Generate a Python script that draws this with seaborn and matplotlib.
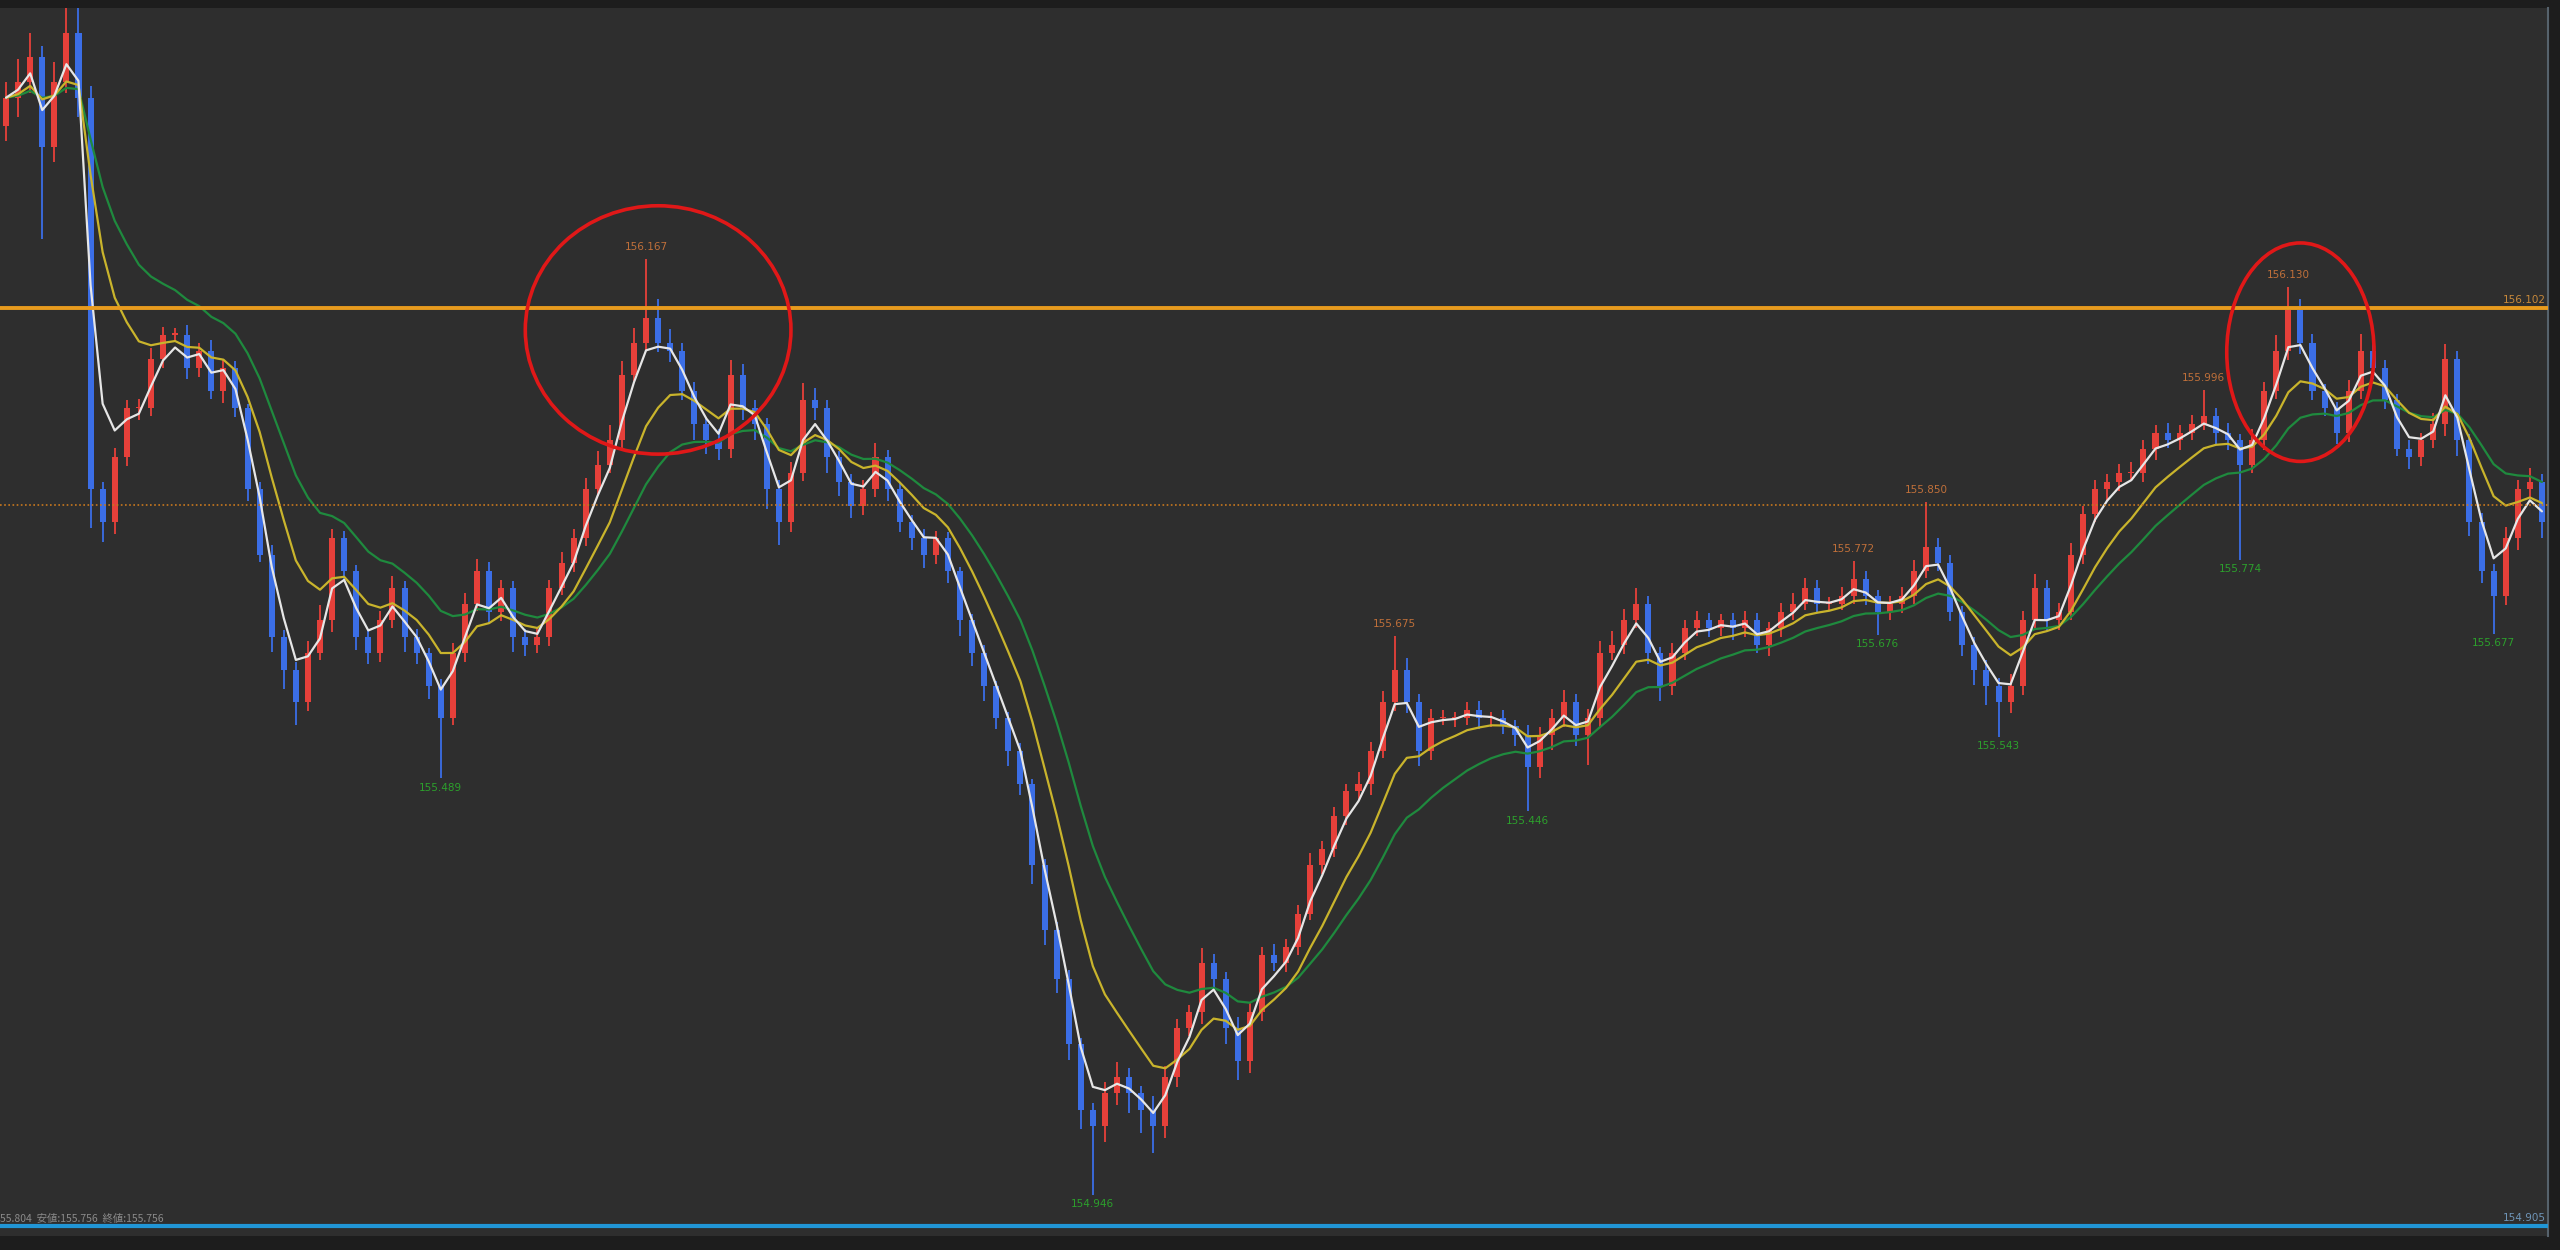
import pandas as pd
import numpy as np
import matplotlib.pyplot as plt
import seaborn as sns
from matplotlib.patches import Ellipse


# Close prices (one per candle, left to right)
close = [
    156.377, 156.398, 156.430, 156.313, 156.398, 156.462, 156.377, 155.866, 155.823, 155.908,
    155.972, 155.972, 156.036, 156.068, 156.068, 156.025, 156.047, 155.994, 156.025, 155.972,
    155.866, 155.781, 155.674, 155.631, 155.589, 155.653, 155.695, 155.802, 155.759, 155.674,
    155.653, 155.695, 155.738, 155.674, 155.653, 155.610, 155.568, 155.653, 155.717, 155.759,
    155.706, 155.738, 155.674, 155.663, 155.674, 155.738, 155.770, 155.802, 155.866, 155.898,
    155.930, 156.015, 156.057, 156.089, 156.057, 156.047, 155.994, 155.951, 155.930, 155.919,
    156.015, 155.972, 155.951, 155.866, 155.823, 155.887, 155.983, 155.972, 155.908, 155.876,
    155.844, 155.866, 155.908, 155.866, 155.823, 155.802, 155.781, 155.802, 155.759, 155.695,
    155.653, 155.610, 155.568, 155.525, 155.482, 155.376, 155.291, 155.227, 155.142, 155.056,
    155.035, 155.078, 155.099, 155.078, 155.056, 155.035, 155.099, 155.163, 155.184, 155.248,
    155.227, 155.163, 155.120, 155.184, 155.259, 155.248, 155.269, 155.312, 155.376, 155.397,
    155.440, 155.472, 155.482, 155.525, 155.589, 155.631, 155.589, 155.525, 155.568, 155.568,
    155.568, 155.578, 155.568, 155.568, 155.557, 155.546, 155.504, 155.546, 155.568, 155.589,
    155.546, 155.568, 155.653, 155.663, 155.695, 155.717, 155.653, 155.610, 155.653, 155.685,
    155.695, 155.685, 155.695, 155.685, 155.695, 155.663, 155.685, 155.706, 155.717, 155.738,
    155.717, 155.717, 155.727, 155.749, 155.727, 155.706, 155.717, 155.727, 155.759, 155.791,
    155.770, 155.706, 155.663, 155.631, 155.610, 155.589, 155.610, 155.695, 155.738, 155.695,
    155.706, 155.781, 155.834, 155.866, 155.876, 155.887, 155.887, 155.919, 155.940, 155.930,
    155.940, 155.951, 155.962, 155.940, 155.930, 155.898, 155.930, 155.994, 156.047, 156.100,
    156.057, 155.994, 155.972, 155.940, 155.994, 156.047, 156.025, 155.983, 155.919, 155.908,
    155.930, 155.951, 156.036, 155.930, 155.823, 155.759, 155.727, 155.802, 155.866, 155.876,
    155.823,
]
first_open = 156.340

# wick lengths above / below the body, in points (0.001)
upper_wick = [
    20, 30, 32, 15, 25, 32, 40, 15, 10, 12, 10, 12, 15, 10, 8, 12, 10, 14, 10, 8,
    6, 10, 12, 8, 10, 15, 20, 12, 10, 8, 10, 12, 15, 8, 10, 6, 8, 12, 14, 16,
    12, 10, 8, 10, 12, 10, 14, 12, 15, 18, 20, 18, 20, 78, 25, 18, 10, 12, 10, 15,
    20, 15, 10, 8, 12, 15, 22, 15, 10, 8, 10, 12, 18, 10, 8, 10, 12, 10, 8, 6,
    8, 10, 6, 8, 10, 6, 8, 10, 12, 8, 10, 15, 20, 12, 10, 18, 15, 12, 10, 20,
    12, 10, 15, 12, 10, 14, 10, 12, 15, 10, 12, 10, 15, 12, 14, 44, 15, 10, 12, 10,
    8, 10, 12, 8, 10, 8, 12, 10, 12, 15, 10, 12, 15, 18, 15, 20, 10, 8, 12, 10,
    12, 10, 8, 10, 12, 10, 8, 12, 14, 12, 10, 8, 12, 23, 10, 8, 10, 12, 15, 59,
    12, 10, 8, 10, 12, 10, 15, 12, 18, 10, 12, 15, 10, 12, 10, 12, 15, 12, 10, 12,
    10, 12, 34, 10, 12, 8, 15, 12, 20, 30, 15, 12, 10, 8, 15, 22, 12, 10, 8, 12,
    10, 15, 20, 10, 8, 12, 10, 15, 12, 18, 10,
]
lower_wick = [
    20, 25, 15, 120, 20, 15, 25, 50, 25, 15, 12, 15, 10, 12, 10, 15, 12, 10, 15, 12,
    15, 10, 20, 25, 30, 12, 10, 15, 12, 18, 15, 12, 10, 20, 15, 18, 79, 10, 12, 10,
    15, 12, 20, 15, 10, 12, 10, 12, 10, 8, 10, 12, 8, 10, 12, 15, 12, 20, 18, 15,
    12, 15, 20, 25, 30, 12, 10, 15, 20, 18, 15, 12, 10, 15, 12, 15, 18, 12, 15, 20,
    18, 20, 15, 20, 15, 25, 20, 18, 20, 25, 89, 20, 15, 25, 30, 35, 15, 12, 10, 15,
    12, 20, 25, 15, 12, 10, 12, 10, 8, 12, 10, 12, 10, 15, 10, 12, 15, 20, 12, 10,
    12, 10, 15, 12, 10, 15, 58, 15, 20, 12, 15, 40, 12, 10, 12, 10, 15, 20, 12, 10,
    10, 12, 10, 15, 12, 10, 15, 12, 10, 8, 12, 10, 8, 10, 12, 30, 10, 12, 10, 8,
    10, 12, 15, 20, 25, 46, 15, 12, 10, 15, 12, 10, 12, 10, 15, 12, 10, 12, 15, 10,
    12, 10, 8, 15, 12, 124, 10, 12, 10, 12, 15, 12, 10, 15, 12, 10, 15, 12, 10, 15,
    12, 10, 15, 20, 18, 15, 50, 12, 15, 10, 20,
]

# candles that carry a high / low price label
peak_idx = [53, 115, 153, 159, 182, 189]
trough_idx = [36, 90, 126, 155, 165, 185, 206]

resistance = 156.102
support = 155.845
last_price = 154.905
status_text = "55.804  安値:155.756  終値:155.756"

df = pd.DataFrame({"close": close})
df["open"] = df["close"].shift(1).fillna(first_open)
body_top = df[["open", "close"]].max(axis=1)
body_bot = df[["open", "close"]].min(axis=1)
df["high"] = body_top + np.array(upper_wick) / 1000
df["low"] = body_bot - np.array(lower_wick) / 1000
df["ma_fast"] = df["close"].ewm(span=3, adjust=False).mean()
df["ma_mid"] = df["close"].ewm(span=8, adjust=False).mean()
df["ma_slow"] = df["close"].ewm(span=15, adjust=False).mean()
df["x"] = np.arange(len(df))

sns.set_style("dark")
plt.rcParams["font.family"] = ["DejaVu Sans", "Noto Sans CJK JP"]

BG = "#2e2e2e"
UP = "#e6403a"
DOWN = "#3b6ee6"

fig = plt.figure(figsize=(25.6, 12.5), dpi=100, facecolor="#1d1d1d")
ax = fig.add_axes([0, 0.0112, 0.9953, 0.9824])
ax.set_facecolor(BG)

colors = np.where(df["close"] >= df["open"], UP, DOWN)
ax.vlines(df["x"], df["low"], df["high"], colors=colors, lw=1.3, zorder=2)
ax.bar(df["x"], np.maximum(body_top - body_bot, 0.0015), bottom=body_bot,
       width=0.5, color=colors, linewidth=0, zorder=3)

sns.lineplot(data=df, x="x", y="ma_slow", color="#1f8a3e", lw=1.6, ax=ax, legend=False, zorder=4)
sns.lineplot(data=df, x="x", y="ma_mid", color="#c9b42c", lw=1.6, ax=ax, legend=False, zorder=5)
sns.lineplot(data=df, x="x", y="ma_fast", color="#e6e6e6", lw=1.6, ax=ax, legend=False, zorder=6)

# level lines
ax.axhline(resistance, color="#e89b1e", lw=2.8, zorder=7)
ax.axhline(support, color="#c8781e", lw=1.2, ls=(0, (1, 1.5)), zorder=7)
ax.axhline(last_price, color="#2196d6", lw=3, zorder=7)

trans = ax.get_yaxis_transform()
ax.text(0.999, resistance + 0.004, f"{resistance:.3f}", transform=trans, ha="right", va="bottom",
        color="#c8893a", fontsize=7.5, zorder=8)
ax.text(0.999, last_price + 0.004, f"{last_price:.3f}", transform=trans, ha="right", va="bottom",
        color="#6f95b8", fontsize=7.5, zorder=8)
ax.text(0.0, last_price + 0.003, status_text, transform=trans, ha="left", va="bottom",
        color="#8a8a8a", fontsize=7.5, family=["Noto Sans CJK JP", "DejaVu Sans"], zorder=8)

for i in peak_idx:
    v = df.loc[i, "high"]
    ax.annotate(f"{v:.3f}", (i, v), xytext=(0, 5), textcoords="offset points",
                ha="center", va="bottom", color="#c0703a", fontsize=7.5, zorder=8)
for i in trough_idx:
    v = df.loc[i, "low"]
    ax.annotate(f"{v:.3f}", (i, v), xytext=(0, -3), textcoords="offset points",
                ha="center", va="top", color="#2ca02c", fontsize=7.5, zorder=8)

# hand drawn circles
ax.add_patch(Ellipse((54, 156.074), 22, 0.324, fill=False, ec="#e01818", lw=2.6, zorder=9))
ax.add_patch(Ellipse((190, 156.045), 12.2, 0.285, fill=False, ec="#e01818", lw=2.6, zorder=9))

ax.set_xlim(-0.5, len(df) - 0.5)
ax.set_ylim(154.892, 156.494)
ax.set_xticks([])
ax.set_yticks([])
ax.set_xlabel("")
ax.set_ylabel("")
for side in ["top", "left", "bottom"]:
    ax.spines[side].set_visible(False)
ax.spines["right"].set_color("#56626c")
ax.spines["right"].set_linewidth(1.5)

plt.savefig("out.png", facecolor=fig.get_facecolor())
